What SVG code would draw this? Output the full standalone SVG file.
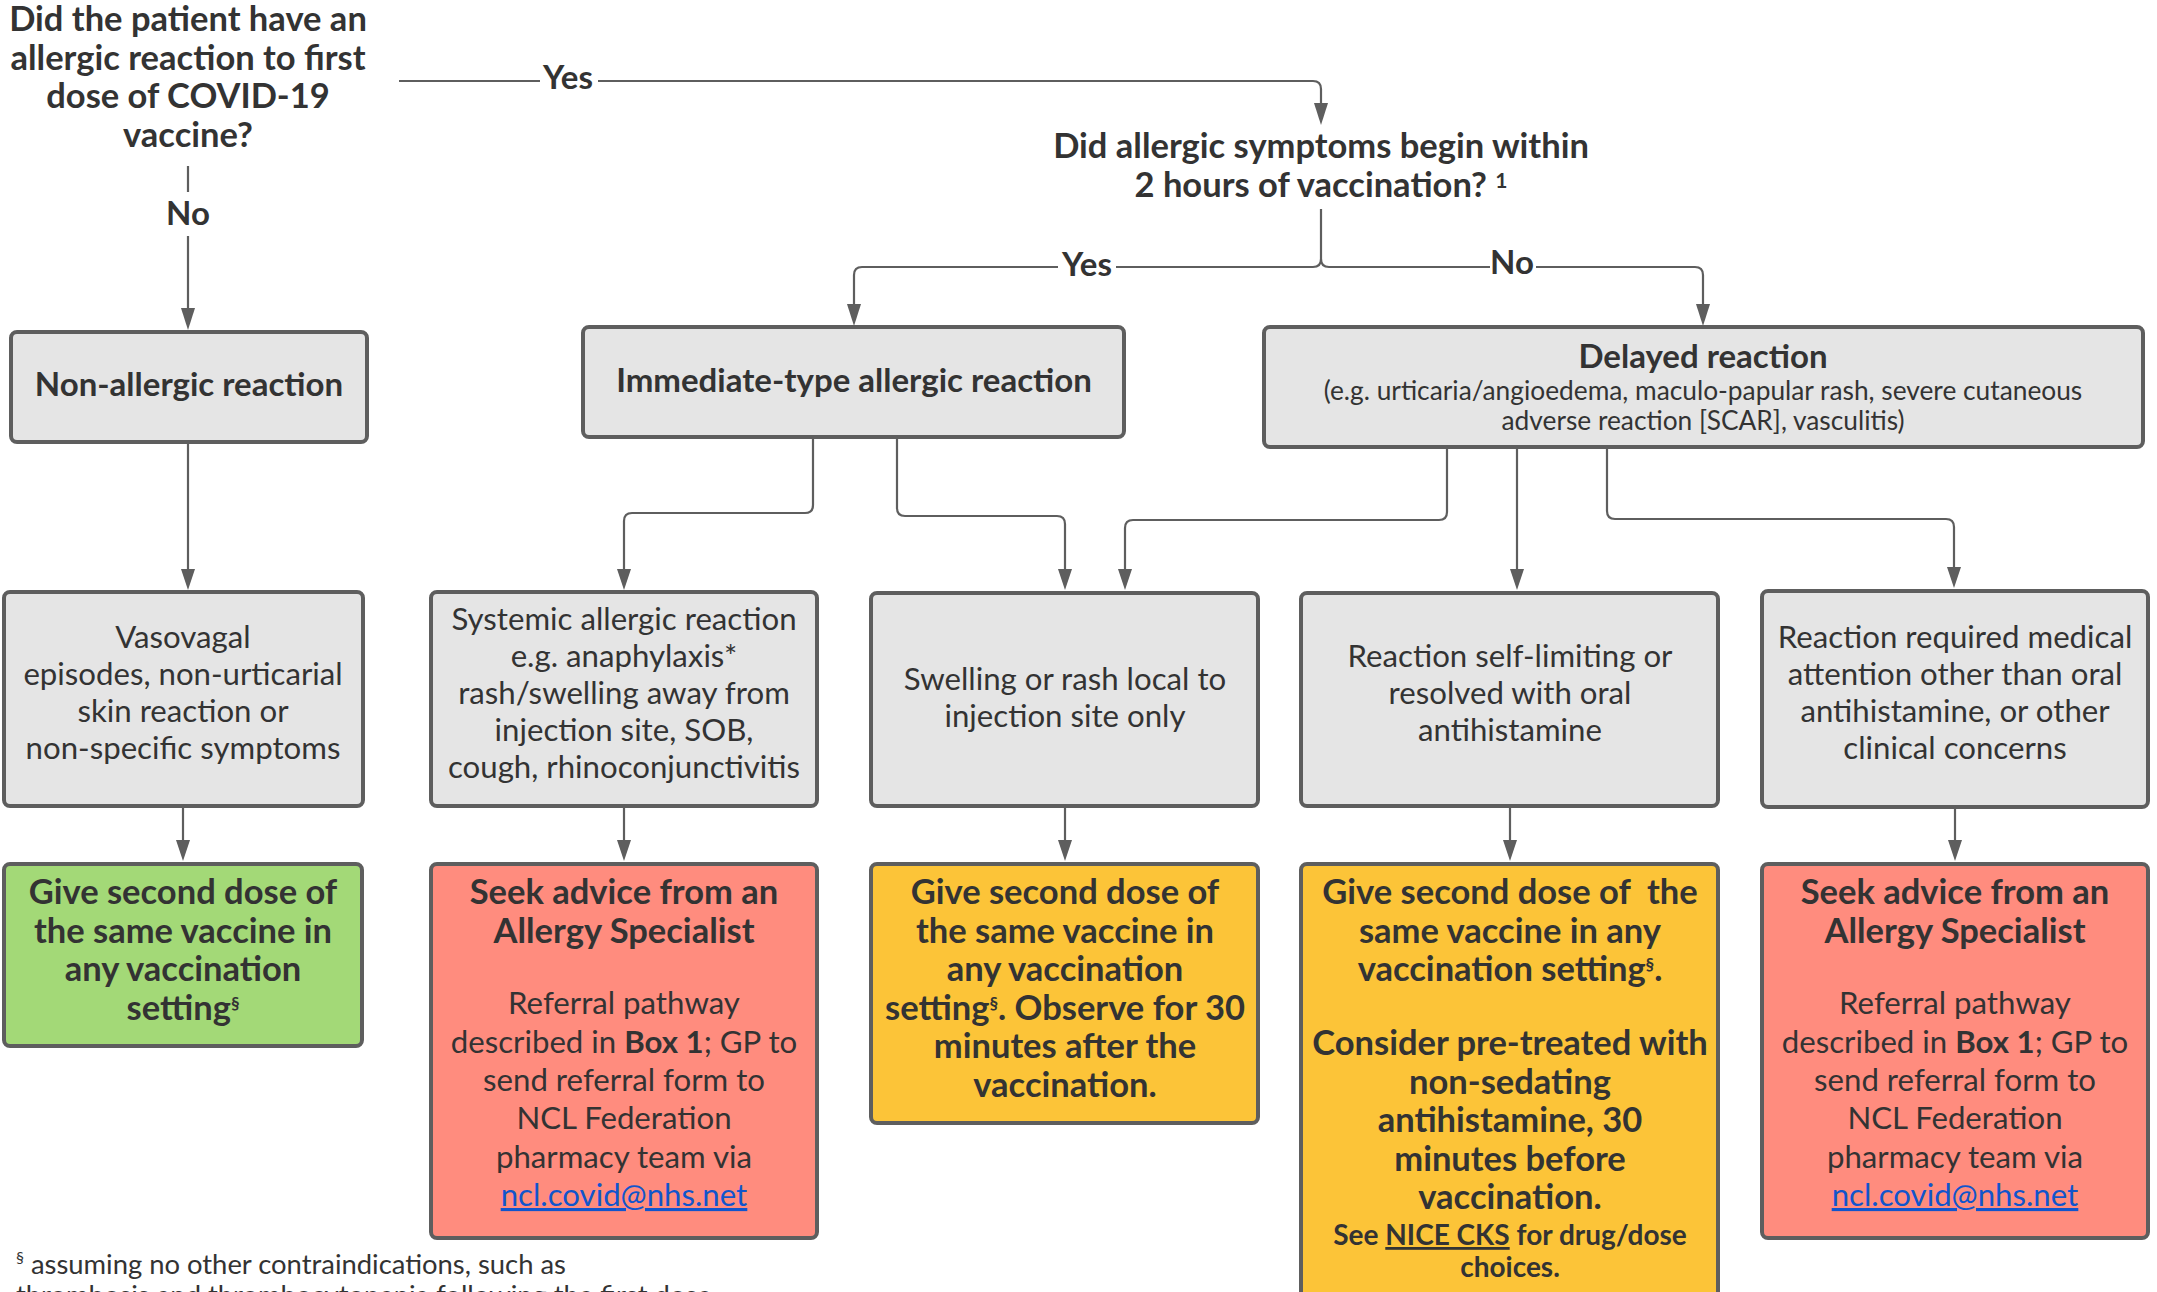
<svg xmlns="http://www.w3.org/2000/svg" width="2157" height="1292" viewBox="0 0 2157 1292">
<style>
text{font-family:Lato,"Liberation Sans",sans-serif;fill:#333333}
.b{font-weight:bold;font-size:34.5px}
.q{font-weight:bold;font-size:34.5px}
.h{font-weight:bold;font-size:33px}
.r{font-size:31.2px}
.s{font-size:26.3px}
.m{text-anchor:middle}
.box{stroke:#5e5e5e;stroke-width:4}
.g{fill:#e5e5e5}
.grn{fill:#a3d977}
.red{fill:#ff8c7e}
.org{fill:#fcc438}
.c{fill:none;stroke:#5e5e5e;stroke-width:2.2}
.lbl{font-weight:bold;font-size:33px;text-anchor:middle}
.link{fill:#1155cc;text-decoration:underline}
</style>
<rect width="2157" height="1292" fill="#ffffff"/>

<g id="connectors">
<path class="c" d="M188,166 V192 M188,236 V312"/>
<path d="M181,308 L195,308 L188,330 z" fill="#5e5e5e"/>
<path class="c" d="M399,81 H1313 Q1321,81 1321,89 V106"/>
<path d="M1314,103 L1328,103 L1321,125 z" fill="#5e5e5e"/>
<path class="c" d="M1321,209 V259 Q1321,267 1313,267 H862 Q854,267 854,275 V307"/>
<path d="M847,304 L861,304 L854,326 z" fill="#5e5e5e"/>
<path class="c" d="M1321,259 Q1321,267 1329,267 H1695 Q1703,267 1703,275 V307"/>
<path d="M1696,304 L1710,304 L1703,326 z" fill="#5e5e5e"/>
<path class="c" d="M188,442 V572"/>
<path d="M181,569 L195,569 L188,590 z" fill="#5e5e5e"/>
<path class="c" d="M813,437 V505 Q813,513 805,513 H632 Q624,513 624,521 V572"/>
<path d="M617,569 L631,569 L624,590 z" fill="#5e5e5e"/>
<path class="c" d="M897,437 V508 Q897,516 905,516 H1057 Q1065,516 1065,524 V572"/>
<path d="M1058,569 L1072,569 L1065,590 z" fill="#5e5e5e"/>
<path class="c" d="M1447,447 V512 Q1447,520 1439,520 H1133 Q1125,520 1125,528 V572"/>
<path d="M1118,569 L1132,569 L1125,590 z" fill="#5e5e5e"/>
<path class="c" d="M1517,447 V572"/>
<path d="M1510,569 L1524,569 L1517,590 z" fill="#5e5e5e"/>
<path class="c" d="M1607,447 V511 Q1607,519 1615,519 H1946 Q1954,519 1954,527 V570"/>
<path d="M1947,567 L1961,567 L1954,588 z" fill="#5e5e5e"/>
<path class="c" d="M183,806 V843"/>
<path d="M176,840 L190,840 L183,861 z" fill="#5e5e5e"/>
<path class="c" d="M624,806 V843"/>
<path d="M617,840 L631,840 L624,861 z" fill="#5e5e5e"/>
<path class="c" d="M1065,806 V843"/>
<path d="M1058,840 L1072,840 L1065,861 z" fill="#5e5e5e"/>
<path class="c" d="M1510,806 V843"/>
<path d="M1503,840 L1517,840 L1510,861 z" fill="#5e5e5e"/>
<path class="c" d="M1955,807 V843"/>
<path d="M1948,840 L1962,840 L1955,861 z" fill="#5e5e5e"/>
<rect x="540" y="60" width="58" height="36" fill="#ffffff"/>
<text class="lbl" x="568" y="89">Yes</text>
<text class="lbl" x="188" y="225">No</text>
<rect x="1058" y="248" width="58" height="38" fill="#ffffff"/>
<text class="lbl" x="1087" y="276">Yes</text>
<rect x="1490" y="248" width="46" height="34" fill="#ffffff"/>
<text class="lbl" x="1512" y="274">No</text>
</g>

<g id="q1">
<text class="q m" x="188" y="31">Did the patient have an</text>
<text class="q m" x="188" y="69.5">allergic reaction to first</text>
<text class="q m" x="188" y="108">dose of COVID-19</text>
<text class="q m" x="188" y="146.5">vaccine?</text>
</g>

<g id="q2">
<text class="q m" x="1321" y="158">Did allergic symptoms begin within</text>
<text class="q m" x="1321" y="197">2 hours of vaccination? <tspan font-size="21" dy="-9">1</tspan></text>
</g>

<g id="non-allergic">
<rect class="box g" x="11" y="332" width="356" height="110" rx="6"/>
<text class="h m" x="189" y="396">Non-allergic reaction</text>
</g>

<g id="immediate">
<rect class="box g" x="583" y="327" width="541" height="110" rx="6"/>
<text class="h m" x="854" y="392">Immediate-type allergic reaction</text>
</g>

<g id="delayed">
<rect class="box g" x="1264" y="327" width="879" height="120" rx="6"/>
<text class="h m" x="1703" y="368">Delayed reaction</text>
<text class="s m" x="1703" y="400">(e.g. urticaria/angioedema, maculo-papular rash, severe cutaneous</text>
<text class="s m" x="1703" y="430">adverse reaction [SCAR], vasculitis)</text>
</g>

<g id="vasovagal">
<rect class="box g" x="4" y="592" width="359" height="214" rx="6"/>
<text class="r m" x="183" y="648">Vasovagal</text>
<text class="r m" x="183" y="685">episodes, non-urticarial</text>
<text class="r m" x="183" y="722">skin reaction or</text>
<text class="r m" x="183" y="759">non-specific symptoms</text>
</g>

<g id="systemic">
<rect class="box g" x="431" y="592" width="386" height="214" rx="6"/>
<text class="r m" x="624" y="630">Systemic allergic reaction</text>
<text class="r m" x="624" y="667">e.g. anaphylaxis*</text>
<text class="r m" x="624" y="704">rash/swelling away from</text>
<text class="r m" x="624" y="741">injection site, SOB,</text>
<text class="r m" x="624" y="778">cough, rhinoconjunctivitis</text>
</g>

<g id="local">
<rect class="box g" x="871" y="593" width="387" height="213" rx="6"/>
<text class="r m" x="1065" y="690">Swelling or rash local to</text>
<text class="r m" x="1065" y="727">injection site only</text>
</g>

<g id="self-limiting">
<rect class="box g" x="1301" y="593" width="417" height="213" rx="6"/>
<text class="r m" x="1510" y="667">Reaction self-limiting or</text>
<text class="r m" x="1510" y="704">resolved with oral</text>
<text class="r m" x="1510" y="741">antihistamine</text>
</g>

<g id="medical-attention">
<rect class="box g" x="1762" y="591" width="386" height="216" rx="6"/>
<text class="r m" x="1955" y="648">Reaction required medical</text>
<text class="r m" x="1955" y="685">attention other than oral</text>
<text class="r m" x="1955" y="722">antihistamine, or other</text>
<text class="r m" x="1955" y="759">clinical concerns</text>
</g>

<g id="give-second-dose">
<rect class="box grn" x="4" y="864" width="358" height="182" rx="6"/>
<text class="b m" x="183" y="904">Give second dose of</text>
<text class="b m" x="183" y="942.5">the same vaccine in</text>
<text class="b m" x="183" y="981">any vaccination</text>
<text class="b m" x="183" y="1019.5">setting<tspan font-size="17" dy="-11">§</tspan></text>
</g>

<g id="seek-advice-1">
<rect class="box red" x="431" y="864" width="386" height="374" rx="6"/>
<text class="b m" x="624" y="904">Seek advice from an</text>
<text class="b m" x="624" y="942.5">Allergy Specialist</text>
<text class="r m" x="624" y="1014">Referral pathway</text>
<text class="r m" x="624" y="1053">described in <tspan font-weight="bold">Box 1</tspan>; GP to</text>
<text class="r m" x="624" y="1091">send referral form to</text>
<text class="r m" x="624" y="1129">NCL Federation</text>
<text class="r m" x="624" y="1168">pharmacy team via</text>
<text class="r m link" x="624" y="1206">ncl.covid@nhs.net</text>
</g>

<g id="give-observe">
<rect class="box org" x="871" y="864" width="387" height="259" rx="6"/>
<text class="b m" x="1065" y="904">Give second dose of</text>
<text class="b m" x="1065" y="942.5">the same vaccine in</text>
<text class="b m" x="1065" y="981">any vaccination</text>
<text class="b m" x="1065" y="1019.5">setting<tspan font-size="17" dy="-11">§</tspan><tspan dy="11">. Observe for 30</tspan></text>
<text class="b m" x="1065" y="1058">minutes after the</text>
<text class="b m" x="1065" y="1096.5">vaccination.</text>
</g>

<g id="give-pretreat">
<rect class="box org" x="1301" y="864" width="417" height="440" rx="6"/>
<text class="b m" x="1510" y="904">Give second dose of&#160; the</text>
<text class="b m" x="1510" y="942.5">same vaccine in any</text>
<text class="b m" x="1510" y="981">vaccination setting<tspan font-size="17" dy="-11">§</tspan><tspan dy="11">.</tspan></text>
<text class="b m" x="1510" y="1055">Consider pre-treated with</text>
<text class="b m" x="1510" y="1093.5">non-sedating</text>
<text class="b m" x="1510" y="1132">antihistamine, 30</text>
<text class="b m" x="1510" y="1170.5">minutes before</text>
<text class="b m" x="1510" y="1209">vaccination.</text>
<text class="m" font-weight="bold" font-size="28" x="1510" y="1245">See <tspan text-decoration="underline">NICE CKS</tspan> for drug/dose</text>
<text class="m" font-weight="bold" font-size="28" x="1510" y="1277">choices.</text>
</g>

<g id="seek-advice-2">
<rect class="box red" x="1762" y="864" width="386" height="374" rx="6"/>
<text class="b m" x="1955" y="904">Seek advice from an</text>
<text class="b m" x="1955" y="942.5">Allergy Specialist</text>
<text class="r m" x="1955" y="1014">Referral pathway</text>
<text class="r m" x="1955" y="1053">described in <tspan font-weight="bold">Box 1</tspan>; GP to</text>
<text class="r m" x="1955" y="1091">send referral form to</text>
<text class="r m" x="1955" y="1129">NCL Federation</text>
<text class="r m" x="1955" y="1168">pharmacy team via</text>
<text class="r m link" x="1955" y="1206">ncl.covid@nhs.net</text>
</g>

<g id="footnote">
<text x="16" y="1274" font-size="27.4"><tspan font-size="16" dy="-11">§</tspan><tspan dy="11"> assuming no other contraindications, such as</tspan></text>
<text x="16" y="1305" font-size="27.4">thrombosis and thrombocytopenia following the first dose</text>
</g>
</svg>
